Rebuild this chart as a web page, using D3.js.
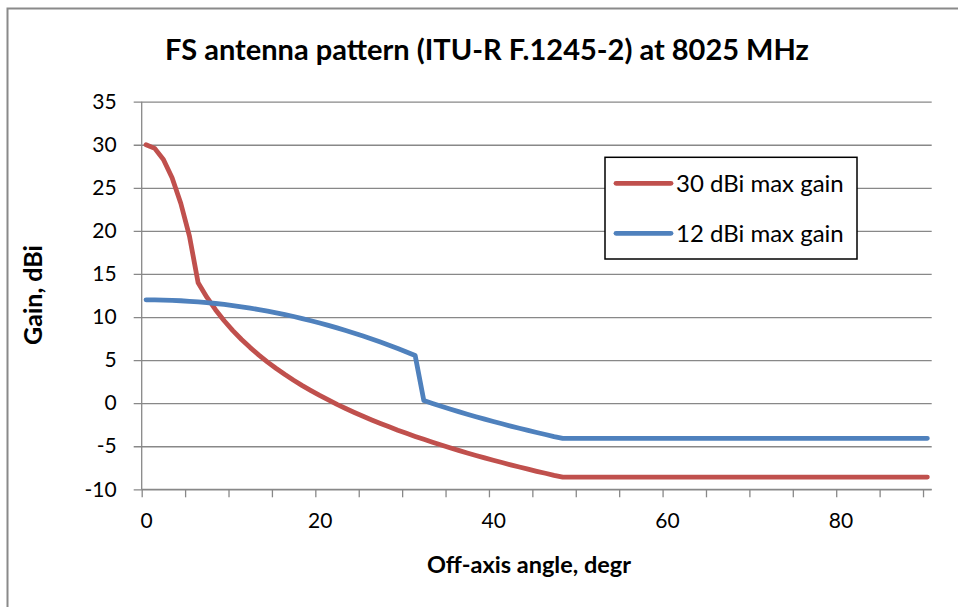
<!DOCTYPE html>
<html>
<head>
<meta charset="utf-8">
<script src="https://cdn.jsdelivr.net/npm/d3@7"></script>
<style>
  html, body { margin: 0; padding: 0; background: #fff; }
  svg { display: block; }
  text { font-family: Lato, "Open Sans", "Liberation Sans", sans-serif; fill: #000; }
</style>
</head>
<body>
<svg id="chart" width="958" height="607"></svg>
<script>
// Off-axis angle, degrees (one category per degree)
const angles = [
  0, 1, 2, 3, 4, 5, 6, 7, 8, 9, 10, 11, 12, 13, 14, 15, 16, 17, 18, 19,
  20, 21, 22, 23, 24, 25, 26, 27, 28, 29, 30, 31, 32, 33, 34, 35, 36, 37, 38, 39,
  40, 41, 42, 43, 44, 45, 46, 47, 48, 49, 50, 51, 52, 53, 54, 55, 56, 57, 58, 59,
  60, 61, 62, 63, 64, 65, 66, 67, 68, 69, 70, 71, 72, 73, 74, 75, 76, 77, 78, 79,
  80, 81, 82, 83, 84, 85, 86, 87, 88, 89, 90
];

// Gain, dBi — 30 dBi max gain antenna
const gain30 = [
  30.00, 29.58, 28.30, 26.18, 23.21, 19.39, 13.97, 12.30, 10.85, 9.57,
  8.43, 7.39, 6.45, 5.58, 4.77, 4.02, 3.32, 2.66, 2.04, 1.46,
  0.90, 0.37, -0.14, -0.62, -1.08, -1.52, -1.95, -2.36, -2.75, -3.14,
  -3.50, -3.86, -4.20, -4.54, -4.86, -5.18, -5.48, -5.78, -6.07, -6.35,
  -6.63, -6.89, -7.16, -7.41, -7.66, -7.91, -8.14, -8.38, -8.58, -8.58,
  -8.58, -8.58, -8.58, -8.58, -8.58, -8.58, -8.58, -8.58, -8.58, -8.58,
  -8.58, -8.58, -8.58, -8.58, -8.58, -8.58, -8.58, -8.58, -8.58, -8.58,
  -8.58, -8.58, -8.58, -8.58, -8.58, -8.58, -8.58, -8.58, -8.58, -8.58,
  -8.58, -8.58, -8.58, -8.58, -8.58, -8.58, -8.58, -8.58, -8.58, -8.58,
  -8.58
];

// Gain, dBi — 12 dBi max gain antenna
const gain12 = [
  12.00, 11.99, 11.97, 11.94, 11.89, 11.83, 11.76, 11.67, 11.57, 11.46,
  11.33, 11.19, 11.03, 10.86, 10.68, 10.49, 10.28, 10.06, 9.82, 9.57,
  9.31, 9.03, 8.74, 8.44, 8.12, 7.79, 7.45, 7.09, 6.72, 6.34,
  5.94, 5.53, 0.30, -0.04, -0.36, -0.68, -0.98, -1.28, -1.57, -1.85,
  -2.13, -2.39, -2.66, -2.91, -3.16, -3.41, -3.64, -3.88, -4.08, -4.08,
  -4.08, -4.08, -4.08, -4.08, -4.08, -4.08, -4.08, -4.08, -4.08, -4.08,
  -4.08, -4.08, -4.08, -4.08, -4.08, -4.08, -4.08, -4.08, -4.08, -4.08,
  -4.08, -4.08, -4.08, -4.08, -4.08, -4.08, -4.08, -4.08, -4.08, -4.08,
  -4.08, -4.08, -4.08, -4.08, -4.08, -4.08, -4.08, -4.08, -4.08, -4.08,
  -4.08
];

const seriesNames = ["30 dBi max gain", "12 dBi max gain"];
const seriesColors = ["#C0504D", "#4F81BD"];

const xLabelValues = [0, 20, 40, 60, 80];
const yTickValues = [-10, -5, 0, 5, 10, 15, 20, 25, 30, 35];

const titleText = "FS antenna pattern (ITU-R F.1245-2) at 8025 MHz";
const xTitle = "Off-axis angle, degr";
const yTitle = "Gain, dBi";

const svg = d3.select("#chart");
const gridColor = "#888888";
const plainNumber = d => String(d);   // hyphen-minus, as in the sheet

// chart-area frame
svg.append("rect")
  .attr("x", 7.5).attr("y", 8.5)
  .attr("width", 1000).attr("height", 700)
  .attr("fill", "#fff")
  .attr("stroke", "#8a8a8a").attr("stroke-width", 2);

const plot = { left: 141.7, right: 931.7, top: 101.7, bottom: 489.3 };

// category axis: each degree occupies one slot, points sit at slot centres
const x = d3.scaleLinear()
  .domain([angles[0] - 0.5, angles[angles.length - 1] + 0.5])
  .range([plot.left, plot.right]);
const y = d3.scaleLinear().domain([-10, 35]).range([plot.bottom, plot.top]);

// horizontal gridlines with outward tick marks
const yAxis = d3.axisLeft(y)
  .tickValues(yTickValues)
  .tickSize(-(plot.right - plot.left))
  .tickFormat("");
const gy = svg.append("g").attr("transform", `translate(${plot.left},0)`).call(yAxis);
gy.select(".domain").remove();
gy.selectAll(".tick line").attr("stroke", gridColor).attr("stroke-width", 1.3)
  .attr("x1", -8);

// y tick labels
const yLab = d3.axisLeft(y).tickValues(yTickValues).tickSize(0).tickPadding(25)
  .tickFormat(plainNumber);
const gyl = svg.append("g").attr("transform", `translate(${plot.left},0)`).call(yLab);
gyl.select(".domain").remove();
gyl.selectAll(".tick text")
  .style("font-family", "Lato, 'Open Sans', sans-serif")
  .style("font-size", "21px").attr("fill", "#000");

// vertical axis line
svg.append("line")
  .attr("x1", plot.left).attr("x2", plot.left)
  .attr("y1", plot.top).attr("y2", plot.bottom)
  .attr("stroke", gridColor).attr("stroke-width", 1.3);

// x tick marks at every 5th category boundary
const xTickPos = angles.filter(a => a % 5 === 0).map(a => a - 0.5);
const xTicks = d3.axisBottom(x).tickValues(xTickPos).tickSize(8).tickFormat("");
const gx = svg.append("g").attr("transform", `translate(0,${plot.bottom})`).call(xTicks);
gx.select(".domain").attr("stroke", gridColor).attr("stroke-width", 1.3)
  .attr("d", `M${plot.left},0H${plot.right}`);
gx.selectAll(".tick line").attr("stroke", gridColor).attr("stroke-width", 1.3);

// x labels centred on their categories
const xLab = d3.axisBottom(x).tickValues(xLabelValues).tickSize(0).tickPadding(24)
  .tickFormat(plainNumber);
const gxl = svg.append("g").attr("transform", `translate(0,${plot.bottom})`).call(xLab);
gxl.select(".domain").remove();
gxl.selectAll(".tick text")
  .style("font-family", "Lato, 'Open Sans', sans-serif")
  .style("font-size", "21px").attr("fill", "#000");

// series lines
const line = d3.line()
  .x((d, i) => x(angles[i]))
  .y(d => y(d));

[gain30, gain12].forEach((vals, k) => {
  svg.append("path")
    .datum(vals)
    .attr("d", line)
    .attr("fill", "none")
    .attr("stroke", seriesColors[k])
    .attr("stroke-width", 4.8)
    .attr("stroke-linecap", "round")
    .attr("stroke-linejoin", "round");
});

// title
svg.append("text")
  .attr("x", 487).attr("y", 60)
  .attr("text-anchor", "middle")
  .style("font-size", "29px").style("font-weight", "bold")
  .text(titleText);

// axis titles
svg.append("text")
  .attr("x", 529).attr("y", 573)
  .attr("text-anchor", "middle")
  .style("font-size", "23.5px").style("font-weight", "bold")
  .text(xTitle);

svg.append("text")
  .attr("transform", "translate(42,295) rotate(-90)")
  .attr("text-anchor", "middle")
  .style("font-size", "25px").style("font-weight", "bold")
  .text(yTitle);

// legend
const legend = svg.append("g");
legend.append("rect")
  .attr("x", 605).attr("y", 157.3)
  .attr("width", 252).attr("height", 101.7)
  .attr("fill", "#fff").attr("stroke", "#000").attr("stroke-width", 1.5);
const legendRows = [183.3, 233.3];
seriesNames.forEach((name, k) => {
  legend.append("line")
    .attr("x1", 616).attr("x2", 671)
    .attr("y1", legendRows[k]).attr("y2", legendRows[k])
    .attr("stroke", seriesColors[k]).attr("stroke-width", 4.8)
    .attr("stroke-linecap", "round");
  legend.append("text")
    .attr("x", 676).attr("y", legendRows[k])
    .attr("dy", "0.35em")
    .style("font-size", "24px")
    .text(name);
});
</script>
</body>
</html>
